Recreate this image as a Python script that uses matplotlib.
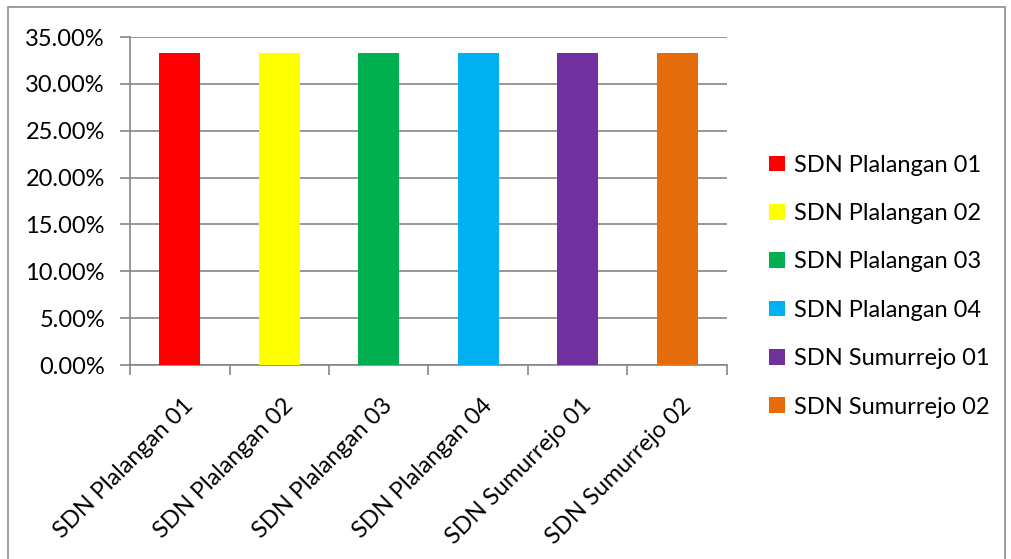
import matplotlib.pyplot as plt
from matplotlib.patches import Rectangle
from matplotlib.ticker import FuncFormatter, MultipleLocator

schools = ['SDN Plalangan 01', 'SDN Plalangan 02', 'SDN Plalangan 03',
           'SDN Plalangan 04', 'SDN Sumurrejo 01', 'SDN Sumurrejo 02']
shares = [33.33, 33.33, 33.33, 33.33, 33.33, 33.33]
colors = ['#FF0000', '#FFFF00', '#00B050', '#00B0F0', '#7030A0', '#E46C0A']

plt.rcParams['font.family'] = ['Lato', 'DejaVu Sans']
grid_col = '#868686'
fs = 17

fig = plt.figure(figsize=(10.11, 5.59), dpi=100)
# outer chart border
fig.patches.append(Rectangle((8 / 1011, -0.01), 997 / 1011, 1 - 7 / 559 + 0.01,
                             transform=fig.transFigure, fill=False,
                             edgecolor='#8c8c8c', lw=1.2))

ax = fig.add_axes([130 / 1011, 1 - 365 / 559, 597 / 1011, 328 / 559])
for i, (v, c, lab) in enumerate(zip(shares, colors, schools)):
    ax.bar(i, v, width=0.41, color=c, label=lab, zorder=3)

ax.set_xlim(-0.5, len(schools) - 0.5)
ax.set_ylim(0, 35)
ax.yaxis.set_major_locator(MultipleLocator(5))
ax.yaxis.set_major_formatter(FuncFormatter(lambda v, p: f'{v:.2f}%'))
ax.grid(axis='y', color=grid_col, lw=1.2, zorder=0)

ax.set_xticks([i - 0.5 for i in range(len(schools) + 1)])
ax.set_xticklabels([])
for i, lab in enumerate(schools):
    ax.text(i + 0.03, -0.09, lab, transform=ax.get_xaxis_transform(),
            rotation=45, rotation_mode='anchor', ha='right', va='top',
            fontsize=fs, color='#000000')

for s in ['top', 'right']:
    ax.spines[s].set_visible(False)
for s in ['left', 'bottom']:
    ax.spines[s].set_color(grid_col)
    ax.spines[s].set_linewidth(1.2)
ax.tick_params(axis='both', color=grid_col, width=1.2, length=7,
               labelsize=fs, labelcolor='#000000')
ax.tick_params(axis='y', pad=11)

ax.legend(loc='upper left', bbox_to_anchor=(1.055, 0.67), frameon=False,
          fontsize=fs, handlelength=0.65, handleheight=0.65,
          handletextpad=0.4, labelspacing=1.16, borderaxespad=0)

fig.savefig('out.png', dpi=100)
